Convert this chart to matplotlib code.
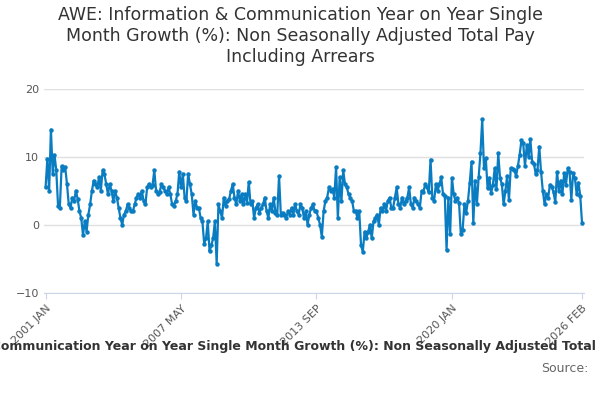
import matplotlib
matplotlib.use("Agg")
import matplotlib.pyplot as plt
import numpy as np

# monthly values, 2001 JAN .. 2019 AUG
early = [
    5.5, 9.7, 5, 14, 7.5, 10.3, 8, 2.8, 2.5, 8.6, 8, 8.5,
    6, 3, 2.5, 4, 3.5, 5, 3.8, 2, 1, -1.5, 0.5, -1,
    1.5, 3, 5, 6.5, 6, 5.5, 7, 5, 8, 7.5, 6, 4.5,
    6, 5, 3.5, 5, 4, 2.5, 1, 0, 1.5, 2, 3, 2.5,
    2, 2, 3, 4, 4.5, 4, 5, 3.5, 3, 5.5, 6, 5.5,
    5.8, 8, 5, 4.5, 4.8, 6, 5.5, 5, 4.5, 5.5, 4.5, 3,
    2.8, 3.5, 4.5, 7.8, 5.5, 7.5, 4, 3.5, 7.5, 6, 4.5, 1.5,
    3.5, 2.5, 2.5, 1, 0.5, -2.8, -2, 0.5, -3.9, -3, -2, 0.5,
    -5.7, 3, 2, 1, 4, 2.8, 3.5, 3.8, 5, 6, 4, 3,
    5, 3.5, 4.5, 3, 4.5, 3.2, 6.3, 3, 3.5, 1, 2.5, 3,
    1.7, 2.5, 3, 4, 2, 1, 3, 2, 4, 1.8, 1.5, 7.2,
    1.5, 1.8, 1.5, 1, 2, 1.5, 2.5, 1.5, 3, 2, 1.5, 3,
    2.5, 1, 2, 0, 1.5, 2.5, 3, 2, 2, 1, 0, -1.8,
    2, 3.5, 4, 5.5, 5, 5.3, 4, 8.5, 1, 7, 3.5, 8,
    6, 5.5, 4.5, 4, 3.5, 2, 2, 1, 2, -3, -4, -1,
    -2, -1, 0, -2, 0.5, 1, 1.5, 0, 2.5, 2, 3, 2,
    3.5, 4, 2.5, 2.5, 4, 5.5, 3, 2.5, 4, 3, 3.5, 4,
    5.5, 3, 2.5, 4, 3.5, 3, 2.5, 5, 4.8, 6, 5.5, 4.8,
    9.6, 4, 3.5, 6, 5, 6, 7, 4.5,
]
# 2019 SEP .. 2026 FEB
late = [
    4.3, -3.7, 4, -1.4, 6.9, 4.5, 3.5, 4, 3.2, -1.4,
    -0.8, 3, 1.8, 3.5, 6.2, 9.3, 0.2, 6.5, 3, 7,
    10.5, 15.5, 8.3, 9.8, 5.4, 6.9, 4.7, 5.9, 8.3, 5.3,
    10.5, 6.9, 6, 3, 5, 7.2, 3.6, 8.3, 8.2, 8.0, 7.2, 8.6,
    10.3, 12.4, 12, 8.6, 11.7, 10, 12.6, 9.3, 9, 7.5, 8,
    11.5, 7.8, 5, 3, 4.5, 4, 5.9, 5.6, 4.8, 3.3, 7.8,
    5, 6.5, 4.5, 7.6, 5.9, 8.3, 7.8, 3.7, 7.6, 6.9,
    4.5, 6.2, 4.3, 0.3,
]
values = early + late
tick_pos = [0, 76, 152, 228, 301]
tick_labels = ["2001 JAN", "2007 MAY", "2013 SEP", "2020 JAN", "2026 FEB"]

fig = plt.figure(figsize=(6, 4), dpi=100)
ax = fig.add_axes([0.073, 0.268, 0.9, 0.51])
x = np.arange(len(values))
ax.plot(x, values, color="#0a7cc1", lw=1.6, marker="o", ms=2.2)
ax.set_xlim(-1, 302)
ax.set_ylim(-10, 20)
ax.set_yticks([-10, 0, 10, 20])
ax.set_xticks(tick_pos)
ax.set_xticklabels(tick_labels, rotation=45, ha="right", rotation_mode="anchor",
                   fontsize=8, color="#555555")
ax.tick_params(axis="y", labelsize=8, colors="#555555", length=0)
ax.tick_params(axis="x", length=4, color="#ccd6eb")
ax.grid(axis="y", color="#e0e0e0", lw=1)
for s in ["top", "right", "left"]:
    ax.spines[s].set_visible(False)
ax.spines["bottom"].set_color("#ccd6eb")
ax.set_axisbelow(True)

fig.suptitle("AWE: Information & Communication Year on Year Single\nMonth Growth (%): Non Seasonally Adjusted Total Pay\nIncluding Arrears",
             y=0.985, fontsize=12.5, color="#333333", linespacing=1.2)
fig.text(0.5, 0.125, "AWE: Information & Communication Year on Year Single Month Growth (%): Non Seasonally Adjusted Total Pay Including Arrears",
         ha="center", fontsize=9, fontweight="bold", color="#333333")
fig.text(0.98, 0.07, "Source:", ha="right", fontsize=9, color="#666666")
fig.savefig("out.png", dpi=100)
